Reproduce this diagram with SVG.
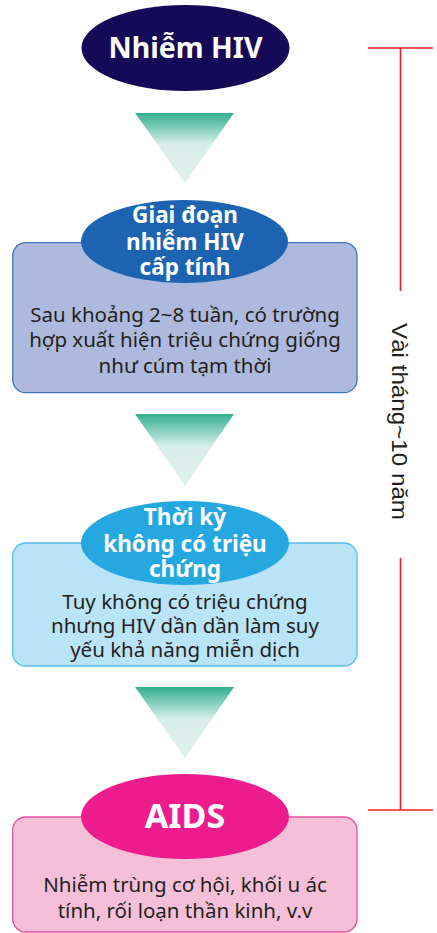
<svg xmlns="http://www.w3.org/2000/svg" width="437" height="933" viewBox="0 0 437 933">
<style>
.t{font-family:"Noto Sans","Open Sans","DejaVu Sans",sans-serif;text-anchor:middle}
.h{fill:#ffffff;font-weight:bold}
.b{fill:#231f20;font-size:20.5px}
.hd{font-size:22.5px}
.red{stroke:#ee1c25;stroke-width:1.6;fill:none}
</style>
<defs>
<linearGradient id="tg" x1="0" y1="0" x2="0" y2="1">
<stop offset="0" stop-color="#32b08f"/>
<stop offset="0.45" stop-color="#d8eee9"/>
<stop offset="1" stop-color="#dff1ed"/>
</linearGradient>
</defs>
<g id="connectors">
<polygon points="135,113 234,113 185,183" fill="url(#tg)"/>
<polygon points="135,414 234,414 185,486" fill="url(#tg)"/>
<polygon points="135,687 234,687 185,758" fill="url(#tg)"/>
</g>
<g id="n-hiv">
<ellipse cx="185.5" cy="48" rx="104" ry="43" fill="#140a57"/>
<text class="t h" x="185.5" y="58" font-size="28.5">Nhiễm HIV</text>
</g>
<g id="n-acute">
<rect x="12.7" y="242.7" width="344.3" height="150" rx="13" fill="#adbadd" stroke="#3f74bb" stroke-width="1.3"/>
<ellipse cx="184.5" cy="241.5" rx="103.5" ry="41.5" fill="#1c64b1"/>
<text class="t h hd" x="185" y="223">Giai đoạn</text>
<text class="t h hd" x="185" y="250">nhiễm HIV</text>
<text class="t h hd" x="185" y="275">cấp tính</text>
<text class="t b" x="185" y="322">Sau khoảng 2~8 tuần, có trường</text>
<text class="t b" x="185" y="347">hợp xuất hiện triệu chứng giống</text>
<text class="t b" x="185" y="373">như cúm tạm thời</text>
</g>
<g id="n-latent">
<rect x="12.7" y="543" width="344.3" height="123" rx="13" fill="#b9e3f7" stroke="#57bee8" stroke-width="1.3"/>
<ellipse cx="185" cy="543" rx="104" ry="42" fill="#24a8df"/>
<text class="t h hd" x="185" y="525">Thời kỳ</text>
<text class="t h hd" x="185" y="552">không có triệu</text>
<text class="t h hd" x="185" y="577">chứng</text>
<text class="t b" x="185" y="609">Tuy không có triệu chứng</text>
<text class="t b" x="185" y="633">nhưng HIV dần dần làm suy</text>
<text class="t b" x="185" y="657">yếu khả năng miễn dịch</text>
</g>
<g id="n-aids">
<rect x="12.7" y="817" width="344.3" height="115" rx="13" fill="#f6bfd8" stroke="#e8519e" stroke-width="1.3"/>
<ellipse cx="185" cy="816.5" rx="104" ry="42.5" fill="#ec1c8d"/>
<text class="t h" x="185" y="828" font-size="34">AIDS</text>
<text class="t b" x="185" y="892">Nhiễm trùng cơ hội, khối u ác</text>
<text class="t b" x="185" y="918">tính, rối loạn thần kinh, v.v</text>
</g>
<g id="duration">
<path class="red" d="M368,48 H433 M400.5,48 V291 M400.5,558 V810 M368,810 H433"/>
<text x="392" y="421.5" transform="rotate(90 392 421.5)" font-family="Liberation Sans Narrow,Liberation Sans,sans-serif" font-size="22" fill="#231f20" text-anchor="middle" textLength="197" lengthAdjust="spacingAndGlyphs">Vài tháng~10 năm</text>
</g>
</svg>
